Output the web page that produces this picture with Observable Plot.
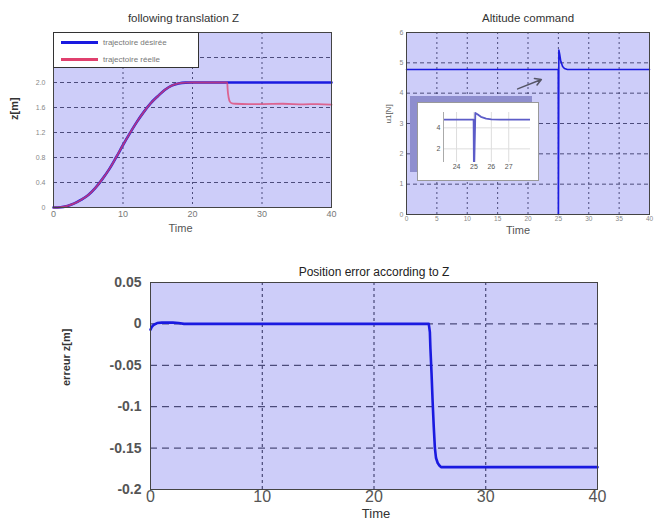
<!DOCTYPE html>
<html><head><meta charset="utf-8">
<script src="https://cdn.jsdelivr.net/npm/d3@7"></script>
<script src="https://cdn.jsdelivr.net/npm/@observablehq/plot@0.6"></script>
<style>
body{margin:0;background:#fff;}
#c{position:relative;width:655px;height:525px;background:#fff;font-family:"Liberation Sans",Arial,sans-serif;overflow:hidden;}
#c svg{position:absolute;overflow:visible;}
.legend{position:absolute;left:53px;top:32px;width:146px;height:36px;background:#fff;border:1px solid #333;box-sizing:border-box;font-size:8px;color:#777;}
.legend div{position:absolute;left:7px;height:10px;line-height:10px;}
.legend span.sw{display:inline-block;width:37px;height:3px;vertical-align:middle;margin-right:5px;}
</style>
</head><body>
<div id="c"></div>
<script>
// ---------- data ----------
// Plot 1: following translation Z
const desiredT = [0, 1, 2, 3, 4, 5, 6, 7, 8, 9, 10, 11, 12, 13, 14, 15, 16, 17, 18, 19, 20, 40];
const desiredZ = [0, 0.004, 0.025, 0.065, 0.125, 0.2, 0.31, 0.45, 0.61, 0.8, 1.0, 1.19, 1.37, 1.53, 1.67, 1.78, 1.88, 1.95, 1.985, 1.998, 2.0, 2.0];
const realT = [0, 1, 2, 3, 4, 5, 6, 7, 8, 9, 10, 11, 12, 13, 14, 15, 16, 17, 18, 19, 20, 25, 25.05, 25.2, 25.4, 25.7, 26.2, 28, 30, 33, 36, 38, 40];
const realZ = [0, 0.004, 0.025, 0.065, 0.125, 0.2, 0.31, 0.45, 0.61, 0.8, 1.0, 1.19, 1.37, 1.53, 1.67, 1.78, 1.88, 1.95, 1.985, 1.998, 2.0, 2.0, 1.9, 1.76, 1.69, 1.665, 1.66, 1.655, 1.655, 1.66, 1.65, 1.655, 1.645];
const zTicks = [0, 0.4, 0.8, 1.2, 1.6, 2.0];
const zGrid = [0.4, 0.8, 1.2, 1.6, 2.0, 2.4];
const tTicks1 = [0, 10, 20, 30, 40];
const legendLabels = ["trajectoire désirée", "trajectoire réelle"];

// Plot 2: Altitude command
const uT = [0, 24.98, 25.0, 25.01, 25.08, 25.2, 25.4, 25.7, 26.0, 26.5, 40];
const uV = [4.78, 4.78, 0, 0, 5.42, 5.3, 5.05, 4.88, 4.81, 4.78, 4.78];
const uTicks = [0, 1, 2, 3, 4, 5, 6];
const tTicks2 = [0, 5, 10, 15, 20, 25, 30, 35, 40];
const insetTTicks = [24, 25, 26, 27];
const insetUTicks = [2, 4];
const arrowFrom = {t: 18.3, u: 4.14};
const arrowTo = {t: 22.2, u: 4.45};

// Plot 3: Position error according to Z
const errT = [0, 0.1, 0.3, 0.6, 1, 2, 2.5, 3, 24.9, 25.0, 25.05, 25.15, 25.25, 25.35, 25.45, 25.55, 25.7, 25.85, 26.0, 26.3, 30, 40];
const errV = [-0.007, -0.004, -0.001, 0.001, 0.0015, 0.0015, 0.001, 0, 0, -0.01, -0.03, -0.06, -0.095, -0.125, -0.15, -0.162, -0.168, -0.171, -0.173, -0.173, -0.173, -0.173];
const errTicks = [-0.2, -0.15, -0.1, -0.05, 0, 0.05];
const tTicks3 = [0, 10, 20, 30, 40];

// ---------- styles ----------
const BG = "#cdcdf9";
const GRID = "#2c2c5c";
const BLUE = "#1a1ae0";
const RED = "#e0406e";
const FONT = "Liberation Sans, Arial, sans-serif";
const plain = d => String(d);

const c = document.getElementById("c");
const pos = (l, t) => ({position: "absolute", left: l + "px", top: t + "px", background: "transparent", fontFamily: FONT, overflow: "visible"});

const desired = desiredT.map((t, i) => ({t, z: desiredZ[i]}));
const real = realT.map((t, i) => ({t, z: realZ[i]}));
const uData = uT.map((t, i) => ({t, u: uV[i]}));
const errData = errT.map((t, i) => ({t, e: errV[i]}));

// ---------- Plot 1 ----------
const p1 = Plot.plot({
  width: 340, height: 245,
  marginLeft: 53, marginRight: 9, marginTop: 32, marginBottom: 38,
  x: {domain: [0, 40]}, y: {domain: [0, 2.8]},
  style: pos(0, 0),
  marks: [
    Plot.frame({fill: BG}),
    Plot.ruleX([10, 20, 30], {stroke: GRID, strokeDasharray: "2,3", strokeOpacity: 0.8}),
    Plot.ruleY(zGrid, {stroke: GRID, strokeDasharray: "4,3", strokeOpacity: 0.8}),
    Plot.line(desired, {x: "t", y: "z", stroke: BLUE, strokeWidth: 2.6, curve: "monotone-x"}),
    Plot.line(real, {x: "t", y: "z", stroke: RED, strokeWidth: 1.8, strokeOpacity: 0.75, curve: "monotone-x"}),
    Plot.frame({stroke: "#444"}),
    Plot.axisX({ticks: tTicks1, tickSize: 0, tickPadding: 3, fontSize: 9, fill: "#777", label: null, tickFormat: plain}),
    Plot.axisY({ticks: zTicks, tickSize: 0, tickPadding: 8, fontSize: 7, fill: "#888", label: null, tickFormat: d => d === 0 ? "0" : d.toFixed(1)}),
    Plot.text(["following translation Z"], {frameAnchor: "top", dy: -19, dx: -9, text: d => d, fontSize: 11.5, fill: "#333"}),
    Plot.text(["Time"], {frameAnchor: "bottom", dy: 24, dx: -12, text: d => d, fontSize: 11, fill: "#555"}),
    Plot.text(["z[m]"], {frameAnchor: "left", dx: -39, rotate: -90, text: d => d, fontSize: 11, fontWeight: "bold", fill: "#333"})
  ]
});
c.appendChild(p1);

// legend (HTML)
const lg = document.createElement("div");
lg.className = "legend";
lg.innerHTML = `<div style="top:5px"><span class="sw" style="background:${BLUE}"></span>${legendLabels[0]}</div>` +
               `<div style="top:22px"><span class="sw" style="background:${RED}"></span>${legendLabels[1]}</div>`;
c.appendChild(lg);

// ---------- Plot 2 ----------
const p2 = Plot.plot({
  width: 310, height: 245,
  marginLeft: 61, marginRight: 6, marginTop: 32, marginBottom: 31,
  x: {domain: [0, 40]}, y: {domain: [0, 6]},
  style: pos(345, 0),
  marks: [
    Plot.frame({fill: BG}),
    Plot.ruleX(tTicks2.slice(1, -1), {stroke: GRID, strokeDasharray: "2,3", strokeOpacity: 0.8}),
    Plot.ruleY(uTicks.slice(1, -1), {stroke: GRID, strokeDasharray: "4,3", strokeOpacity: 0.8}),
    Plot.line(uData, {x: "t", y: "u", stroke: BLUE, strokeWidth: 1.6}),
    Plot.arrow([0], {x1: () => arrowFrom.t, y1: () => arrowFrom.u, x2: () => arrowTo.t, y2: () => arrowTo.u, stroke: "#556", strokeWidth: 1.5, headLength: 7}),
    Plot.frame({stroke: "#444"}),
    Plot.axisX({ticks: tTicks2, tickSize: 0, tickPadding: 2, fontSize: 6.5, fill: "#888", label: null, tickFormat: plain}),
    Plot.axisY({ticks: uTicks, tickSize: 0, tickPadding: 3, fontSize: 7, fill: "#888", label: null, tickFormat: plain}),
    Plot.text(["Altitude command"], {frameAnchor: "top", dy: -19, text: d => d, fontSize: 11.5, fill: "#333"}),
    Plot.text(["Time"], {frameAnchor: "bottom", dy: 19, dx: -10, text: d => d, fontSize: 11, fill: "#555"}),
    Plot.text(["u1[N]"], {frameAnchor: "left", dx: -18, rotate: -90, text: d => d, fontSize: 8, fill: "#555"})
  ]
});
c.appendChild(p2);

// inset shadow
const sh = document.createElement("div");
sh.style.cssText = "position:absolute;left:410px;top:96px;width:122px;height:76px;background:#8e8ece;";
c.appendChild(sh);

// ---------- Inset ----------
const p4 = Plot.plot({
  width: 120, height: 77,
  marginLeft: 25, marginRight: 8, marginTop: 9, marginBottom: 18,
  x: {domain: [23.25, 28.25]}, y: {domain: [0.7, 5.46]},
  style: {...pos(418, 103), background: "#fff", outline: "1px solid #999"},
  marks: [
    Plot.ruleX(insetTTicks, {stroke: "#ddd"}),
    Plot.ruleY(insetUTicks, {stroke: "#ddd"}),
    Plot.line(uData, {x: "t", y: "u", stroke: "#5c5cc8", strokeWidth: 1.8, clip: true}),
    Plot.axisX({ticks: insetTTicks, tickSize: 0, tickPadding: 2, fontSize: 7, fill: "#555", label: null, tickFormat: plain}),
    Plot.axisY({ticks: insetUTicks, tickSize: 0, tickPadding: 3, fontSize: 7, fill: "#555", label: null, tickFormat: plain}),
    Plot.ruleX([23.25], {stroke: "#aaa"})
  ]
});
c.appendChild(p4);

// ---------- Plot 3 ----------
const p3 = Plot.plot({
  width: 655, height: 275,
  marginLeft: 150, marginRight: 58, marginTop: 32, marginBottom: 36,
  x: {domain: [0, 40]}, y: {domain: [-0.2, 0.05]},
  style: pos(0, 250),
  marks: [
    Plot.frame({fill: BG}),
    Plot.ruleX([10, 20, 30], {stroke: GRID, strokeDasharray: "3,3"}),
    Plot.ruleY([-0.15, -0.1, -0.05, 0], {stroke: GRID, strokeDasharray: "7,5"}),
    Plot.line(errData, {x: "t", y: "e", stroke: BLUE, strokeWidth: 2.6}),
    Plot.frame({stroke: "#444"}),
    Plot.axisX({ticks: tTicks3, tickSize: 0, tickPadding: 1, fontSize: 16, fill: "#555", label: null, tickFormat: plain}),
    Plot.axisY({ticks: errTicks, tickSize: 0, tickPadding: 9, fontSize: 14, fill: "#555", fontWeight: "bold", label: null, tickFormat: d => Math.abs(d) < 1e-9 ? "0" : String(+d.toFixed(2))}),
    Plot.text(["Position error according to Z"], {frameAnchor: "top", dy: -15, text: d => d, fontSize: 12, fill: "#222"}),
    Plot.text(["Time"], {frameAnchor: "bottom", dy: 28, dx: 2, text: d => d, fontSize: 13, fill: "#333"}),
    Plot.text(["erreur z[m]"], {frameAnchor: "left", dx: -84, rotate: -90, text: d => d, fontSize: 11, fontWeight: "bold", fill: "#333"})
  ]
});
c.appendChild(p3);
</script>
</body></html>
